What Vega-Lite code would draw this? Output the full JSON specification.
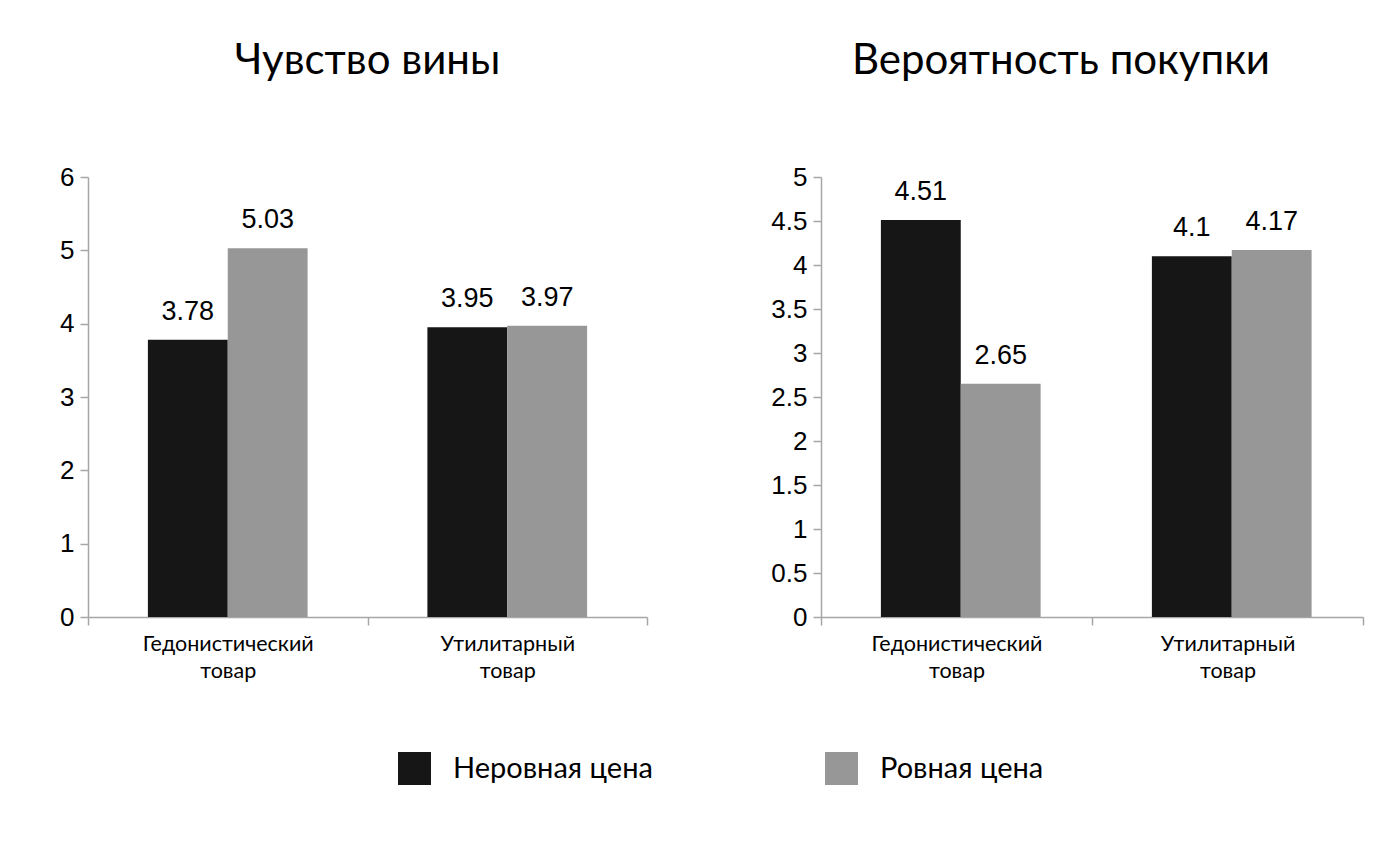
{
  "$schema": "https://vega.github.io/schema/vega-lite/v6.json",
  "background": "white",
  "padding": {"left": 59, "top": 40, "right": 5, "bottom": 5},
  "datasets": {
    "guilt": [
      {"category": "Гедонистический товар", "series": "Неровная цена", "value": 3.78},
      {"category": "Гедонистический товар", "series": "Ровная цена", "value": 5.03},
      {"category": "Утилитарный товар", "series": "Неровная цена", "value": 3.95},
      {"category": "Утилитарный товар", "series": "Ровная цена", "value": 3.97}
    ],
    "purchase": [
      {"category": "Гедонистический товар", "series": "Неровная цена", "value": 4.51},
      {"category": "Гедонистический товар", "series": "Ровная цена", "value": 2.65},
      {"category": "Утилитарный товар", "series": "Неровная цена", "value": 4.1},
      {"category": "Утилитарный товар", "series": "Ровная цена", "value": 4.17}
    ]
  },
  "spacing": 122,
  "hconcat": [
    {
      "width": 559,
      "height": 440,
      "data": {"name": "guilt"},
      "title": {"text": "Чувство вины"},
      "encoding": {
        "x": {"field": "category", "type": "nominal", "sort": null,
              "scale": {"paddingInner": 0, "paddingOuter": 0},
              "axis": {"title": null, "labelAngle": 0, "tickBand": "extent", "labelExpr": "split(datum.label, ' ')"}},
        "xOffset": {"field": "series", "type": "nominal", "sort": null,
                    "scale": {"paddingInner": 0, "paddingOuter": 0.75}},
        "y": {"field": "value", "type": "quantitative",
              "scale": {"domain": [0, 6], "nice": false},
              "axis": {"title": null, "values": [0, 1, 2, 3, 4, 5, 6], "format": "~g"}}
      },
      "layer": [
        {"mark": {"type": "bar"},
         "encoding": {"color": {"field": "series", "type": "nominal", "sort": null,
                                "scale": {"domain": ["Неровная цена", "Ровная цена"], "range": ["#161616", "#979797"]},
                                "legend": {"title": null, "orient": "none", "direction": "horizontal", "legendX": 310, "legendY": 575}}}},
        {"mark": {"type": "text", "baseline": "bottom", "dy": -14, "font": "Liberation Sans", "fontSize": 27, "color": "#000"},
         "encoding": {"text": {"field": "value", "type": "quantitative", "format": ".3~g"}}}
      ]
    },
    {
      "width": 542,
      "height": 440,
      "data": {"name": "purchase"},
      "title": {"text": "Вероятность покупки", "dx": -31},
      "encoding": {
        "x": {"field": "category", "type": "nominal", "sort": null,
              "scale": {"paddingInner": 0, "paddingOuter": 0},
              "axis": {"title": null, "labelAngle": 0, "tickBand": "extent", "labelExpr": "split(datum.label, ' ')"}},
        "xOffset": {"field": "series", "type": "nominal", "sort": null,
                    "scale": {"paddingInner": 0, "paddingOuter": 0.75}},
        "y": {"field": "value", "type": "quantitative",
              "scale": {"domain": [0, 5], "nice": false},
              "axis": {"title": null, "values": [0, 0.5, 1, 1.5, 2, 2.5, 3, 3.5, 4, 4.5, 5], "format": "~g"}}
      },
      "layer": [
        {"mark": {"type": "bar"},
         "encoding": {"color": {"field": "series", "type": "nominal", "sort": null,
                                "scale": {"domain": ["Неровная цена", "Ровная цена"], "range": ["#161616", "#979797"]}}}},
        {"mark": {"type": "text", "baseline": "bottom", "dy": -14, "font": "Liberation Sans", "fontSize": 27, "color": "#000"},
         "encoding": {"text": {"field": "value", "type": "quantitative", "format": ".3~g"}}}
      ]
    }
  ],
  "config": {
    "view": {"stroke": null},
    "title": {"font": "Lato", "fontSize": 42, "fontWeight": "normal", "color": "#000", "anchor": "middle", "offset": 81},
    "axis": {"grid": false, "domainColor": "#a6a6a6", "tickColor": "#a6a6a6", "tickSize": 8, "domainWidth": 1.5, "tickWidth": 1.5},
    "axisY": {"labelFont": "Liberation Sans", "labelFontSize": 26, "labelColor": "#000", "labelPadding": 6},
    "axisX": {"labelFont": "Lato", "labelFontSize": 21.5, "labelColor": "#000", "labelPadding": 8, "labelLineHeight": 27},
    "legend": {"symbolType": "square", "symbolSize": 1089, "symbolStrokeWidth": 0, "labelFont": "Lato", "labelFontSize": 29, "labelColor": "#000", "labelOffset": 22, "columnPadding": 172, "padding": 0, "labelLimit": 400}
  }
}
